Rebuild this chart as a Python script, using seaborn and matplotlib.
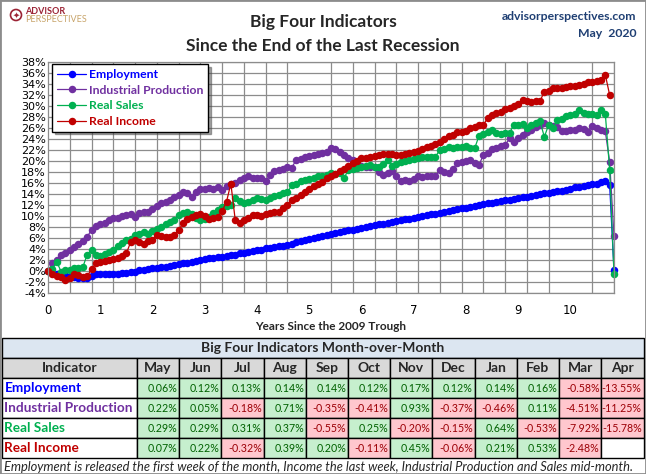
import numpy as np
import pandas as pd
import matplotlib
matplotlib.use("Agg")
import matplotlib.pyplot as plt
from matplotlib.lines import Line2D
from matplotlib.patches import Rectangle, Circle
import seaborn as sns

# cumulative % change since the June 2009 trough, one value per month (Jun 2009 .. Apr 2020)
employment = [
    0.0, -0.3, -0.5, -0.7, -0.8, -1.0, -1.1, -1.2, -1.3, -1.2, -0.9, -0.6,
    -0.6, -0.6, -0.6, -0.5, -0.5, -0.4, -0.3, -0.2, -0.1, 0.1, 0.2, 0.4,
    0.5, 0.6, 0.7, 0.8, 1.0, 1.1, 1.3, 1.4, 1.5, 1.7, 1.8, 2.0,
    2.1, 2.3, 2.4, 2.5, 2.6, 2.8, 2.9, 3.0, 3.2, 3.3, 3.5, 3.6,
    3.8, 3.9, 4.1, 4.2, 4.3, 4.5, 4.6, 4.8, 5.0, 5.2, 5.4, 5.6,
    5.8, 6.0, 6.2, 6.4, 6.6, 6.8, 6.9, 7.1, 7.2, 7.4, 7.5, 7.7,
    7.8, 8.0, 8.1, 8.3, 8.5, 8.6, 8.8, 8.9, 9.1, 9.2, 9.4, 9.5,
    9.7, 9.8, 10.0, 10.1, 10.3, 10.4, 10.6, 10.8, 10.9, 11.1, 11.2, 11.4,
    11.5, 11.7, 11.8, 12.0, 12.1, 12.3, 12.4, 12.6, 12.7, 12.9, 13.0, 13.1,
    13.3, 13.4, 13.5, 13.7, 13.8, 14.0, 14.1, 14.2, 14.4, 14.5, 14.6, 14.8,
    15.0, 15.2, 15.3, 15.5, 15.6, 15.8, 15.9, 16.1, 16.4, 15.7, 0.1,
]
industrial = [
    0.0, 1.4, 2.0, 2.9, 3.3, 3.8, 4.3, 5.0, 5.5, 6.2, 7.5, 8.2,
    8.6, 8.8, 9.2, 9.6, 9.6, 10.0, 10.2, 10.3, 9.8, 10.6, 10.8, 10.7,
    11.3, 11.8, 12.3, 12.6, 13.0, 13.4, 13.9, 14.3, 14.1, 13.5, 14.4, 15.0,
    15.0, 15.1, 15.0, 15.2, 14.8, 15.4, 15.8, 16.0, 16.6, 16.9, 17.2, 16.9,
    16.9, 17.0, 16.4, 17.4, 18.1, 18.3, 18.6, 19.0, 18.8, 20.2, 20.4, 20.7,
    20.9, 21.1, 21.3, 21.5, 21.7, 22.3, 22.1, 21.6, 21.1, 20.6, 20.2, 19.6,
    19.1, 19.0, 18.9, 18.9, 18.0, 17.5, 17.9, 18.1, 17.2, 16.4, 16.5, 16.4,
    16.8, 17.2, 17.1, 17.2, 17.3, 17.2, 18.4, 18.0, 17.8, 18.6, 19.6, 19.9,
    20.0, 20.1, 19.6, 19.3, 21.1, 21.4, 22.1, 22.3, 22.8, 22.9, 24.1, 23.5,
    24.2, 24.8, 25.2, 25.7, 26.1, 26.6, 27.0, 26.6, 26.3, 26.2, 25.5, 25.4,
    25.6, 25.7, 26.0, 25.8, 25.2, 26.4, 26.0, 25.7, 25.4, 19.9, 6.3,
]
real_sales = [
    0.0, 0.4, 1.7, -0.1, 0.1, 0.2, 0.5, 0.6, 0.7, 3.0, 3.8, 2.9,
    2.8, 3.1, 3.4, 3.9, 4.6, 5.1, 5.6, 5.9, 6.5, 6.8, 7.1, 6.8,
    7.3, 7.6, 8.0, 8.5, 8.9, 9.3, 10.2, 10.6, 10.8, 10.4, 9.6, 9.3,
    9.5, 9.9, 10.5, 11.1, 11.7, 11.9, 12.0, 13.2, 12.7, 12.3, 12.6, 13.0,
    13.2, 13.1, 12.9, 13.3, 13.6, 13.8, 14.1, 14.3, 15.6, 15.9, 16.3, 16.5,
    16.8, 17.0, 17.2, 17.3, 17.5, 17.9, 17.6, 17.8, 16.9, 18.4, 18.6, 18.8,
    18.9, 19.1, 19.3, 19.0, 18.9, 19.5, 20.2, 19.1, 19.4, 19.9, 20.0, 20.1,
    20.3, 20.5, 20.8, 20.7, 20.8, 20.8, 22.0, 22.2, 22.5, 22.4, 22.6, 22.6,
    22.7, 22.4, 22.3, 24.6, 24.9, 25.2, 25.7, 25.1, 25.0, 25.1, 25.1, 26.6,
    26.5, 26.8, 26.0, 26.5, 27.0, 27.2, 24.4, 26.6, 26.0, 27.5, 27.7, 28.1,
    28.3, 28.6, 29.2, 28.7, 28.5, 28.6, 28.4, 29.3, 28.6, 18.4, -0.5,
]
real_income = [
    0.0, -0.5, -0.9, -1.1, -1.6, -1.2, -0.6, -0.8, -1.0, -0.9, 0.3, 1.4,
    1.6, 1.9, 2.0, 2.1, 2.3, 2.7, 3.2, 5.3, 5.6, 5.3, 5.0, 5.4,
    5.6, 6.5, 6.4, 6.2, 6.2, 6.5, 7.4, 8.7, 9.4, 9.9, 10.2, 10.4,
    10.0, 9.4, 9.6, 9.9, 10.9, 12.6, 15.9, 9.3, 8.7, 9.2, 9.6, 10.2,
    10.2, 10.0, 10.3, 10.6, 10.8, 10.8, 11.4, 12.0, 12.9, 13.3, 13.8, 14.4,
    15.0, 15.4, 15.8, 16.2, 17.0, 17.2, 17.6, 18.1, 18.6, 19.1, 19.6, 20.0,
    20.5, 20.6, 20.7, 20.9, 21.1, 21.2, 21.2, 21.2, 21.1, 21.1, 21.3, 21.4,
    21.6, 21.9, 22.1, 22.5, 22.7, 23.1, 23.5, 24.0, 24.6, 24.8, 25.2, 25.3,
    25.5, 26.0, 26.2, 26.5, 26.6, 27.8, 28.3, 28.7, 29.0, 29.4, 29.7, 30.0,
    30.4, 31.1, 31.0, 30.8, 30.9, 30.9, 32.6, 32.8, 33.3, 33.3, 33.3, 33.4,
    33.7, 33.6, 33.9, 34.0, 34.3, 34.3, 34.6, 34.7, 35.7, 32.0, np.nan,
]

series_names = ["Employment", "Industrial Production", "Real Sales", "Real Income"]
series_colors = ["#0000FF", "#7030A0", "#00B050", "#C00000"]

# month-over-month table
months = ["May", "Jun", "Jul", "Aug", "Sep", "Oct", "Nov", "Dec", "Jan", "Feb", "Mar", "Apr"]
emp_mom = [0.06, 0.12, 0.13, 0.14, 0.14, 0.12, 0.17, 0.12, 0.14, 0.16, -0.58, -13.55]
ip_mom = [0.22, 0.05, -0.18, 0.71, -0.35, -0.41, 0.93, -0.37, -0.46, 0.11, -4.51, -11.25]
sales_mom = [0.29, 0.29, 0.31, 0.37, -0.55, 0.25, -0.20, -0.15, 0.64, -0.53, -7.92, -15.78]
income_mom = [0.07, 0.22, -0.32, 0.39, 0.20, -0.11, 0.45, -0.06, 0.21, 0.53, -2.48, None]

W, H = 646, 474

frames = []
for name, vals in zip(series_names, [employment, industrial, real_sales, real_income]):
    frames.append(pd.DataFrame({"years": np.arange(len(vals)) / 12, "value": vals, "series": name}))
df = pd.concat(frames, ignore_index=True).dropna()

sns.set_theme(style="white")
plt.rcParams["font.family"] = ["DejaVu Sans"]

fig = plt.figure(figsize=(W / 100, H / 100), dpi=100)
fig.patch.set_facecolor("white")

ax = fig.add_axes([48 / W, (H - 293) / H, 566 / W, 231 / H])
sns.lineplot(
    data=df, x="years", y="value", hue="series", hue_order=series_names,
    palette=series_colors, marker="o", markersize=5.4, markeredgewidth=0,
    linewidth=0.9, errorbar=None, sort=False, legend=False, ax=ax,
)
for ln in ax.lines:
    ln.set_clip_on(False)

ax.set_xlim(0, 130 / 12)
ax.set_ylim(-4, 38)
ax.set_xticks(range(0, 11))
ax.set_xticks(np.arange(0, 131, 5) / 12, minor=True)
ax.set_yticks(range(-4, 39, 2))
ax.set_yticklabels([f"{v}%" for v in range(-4, 39, 2)])
ax.grid(which="minor", axis="x", color="#8C8C8C", linewidth=0.9)
ax.grid(which="major", axis="y", color="#8C8C8C", linewidth=0.9)
ax.grid(which="major", axis="x", visible=False)
ax.set_axisbelow(True)
ax.tick_params(axis="both", which="both", length=0)
ax.tick_params(axis="y", pad=1.5, labelsize=8, labelcolor="#000000")
ax.tick_params(axis="x", pad=8, labelsize=8.5, labelcolor="#000000")
ax.set_xlabel("")
ax.set_ylabel("")
for spine in ax.spines.values():
    spine.set_color("#8C8C8C")
    spine.set_linewidth(0.9)

handles = [
    Line2D([0], [0], color=c, marker="o", markersize=5.4, markeredgewidth=0, linewidth=0.9)
    for c in series_colors
]
leg = ax.legend(
    handles, series_names, loc="upper left", bbox_to_anchor=(52 / W, 1 - 64 / H),
    bbox_transform=fig.transFigure, borderaxespad=0, frameon=True, fancybox=False,
    shadow=True, fontsize=8.8, labelspacing=0.38, borderpad=0.4,
    handlelength=2.4, handletextpad=0.2,
)
leg.get_frame().set_edgecolor("black")
leg.get_frame().set_linewidth(1.0)
for txt, c in zip(leg.get_texts(), series_colors):
    txt.set_color(c)
    txt.set_fontweight("bold")
    txt.set_family(["Lato", "DejaVu Sans"])

# overlay in pixel coordinates for titles, logo and table
ov = fig.add_axes([0, 0, 1, 1])
ov.set_xlim(0, W)
ov.set_ylim(H, 0)
ov.axis("off")
ov.patch.set_alpha(0)

title_font = ["Lato", "DejaVu Sans"]
ov.text(323, 22, "Big Four Indicators", ha="center", va="center", fontsize=12.5,
        fontweight="bold", family=title_font)
ov.text(323, 46, "Since the End of the Last Recession", ha="center", va="center",
        fontsize=12.5, fontweight="bold", family=title_font)
ov.text(636, 16, "advisorperspectives.com", ha="right", va="center", fontsize=8.8,
        fontweight="bold", color="#1F3F73", family=title_font)
ov.text(636, 33, "May  2020", ha="right", va="center", fontsize=8.8,
        fontweight="bold", color="#1F3F73", family=title_font)

# logo
ov.add_patch(Circle((16, 15), 5.5, facecolor="none", edgecolor="#9B2335", linewidth=1.2))
ov.text(16, 15.5, "✦", ha="center", va="center", fontsize=6, color="#9B2335")
ov.text(25, 11, "ADVISOR", ha="left", va="center", fontsize=6.5, fontweight="bold",
        color="#9B2335", family=title_font)
ov.text(25, 19.5, "PERSPECTIVES", ha="left", va="center", fontsize=6.5,
        color="#C8A46A", family=title_font)

ov.text(331, 326, "Years Since the 2009 Trough", ha="center", va="center", fontsize=8.5,
        fontweight="bold", family=title_font)

# table
x0, x_name, x_end = 1.5, 137, 643.5
col_w = (x_end - x_name) / len(months)
y_title, y_head, y_rows = 337.5, 358, 378
row_h = 20
green_bg, green_fg = "#C6EFCE", "#006100"
red_bg, red_fg = "#FFC7CE", "#9C0006"

ov.add_patch(Rectangle((x0, y_title), x_end - x0, y_head - y_title, facecolor="#DCE6F1",
                       edgecolor="black", linewidth=1.0))
ov.text((x0 + x_end) / 2, (y_title + y_head) / 2 + 0.5, "Big Four Indicators Month-over-Month",
        ha="center", va="center", fontsize=10, fontweight="bold", family=title_font)

ov.add_patch(Rectangle((x0, y_head), x_name - x0, row_h, facecolor="#D9D9D9",
                       edgecolor="black", linewidth=1.0))
ov.text((x0 + x_name) / 2, y_head + row_h / 2 + 0.5, "Indicator", ha="center", va="center",
        fontsize=10, fontweight="bold", family=title_font)
for j, m in enumerate(months):
    cx = x_name + j * col_w
    ov.add_patch(Rectangle((cx, y_head), col_w, row_h, facecolor="#D9D9D9",
                           edgecolor="black", linewidth=1.0))
    ov.text(cx + col_w / 2, y_head + row_h / 2 + 0.5, m, ha="center", va="center",
            fontsize=10, fontweight="bold", family=title_font)

table_rows = [emp_mom, ip_mom, sales_mom, income_mom]
for i, (name, color, vals) in enumerate(zip(series_names, series_colors, table_rows)):
    ry = y_rows + i * row_h
    ov.add_patch(Rectangle((x0, ry), x_name - x0, row_h, facecolor="white",
                           edgecolor="black", linewidth=1.0))
    ov.text(x0 + 3, ry + row_h / 2 + 0.5, name, ha="left", va="center", fontsize=9.8,
            fontweight="bold", color=color, family=title_font)
    for j, v in enumerate(vals):
        cx = x_name + j * col_w
        if v is None:
            bg, fg = "white", "black"
        elif v < 0:
            bg, fg = red_bg, red_fg
        else:
            bg, fg = green_bg, green_fg
        ov.add_patch(Rectangle((cx, ry), col_w, row_h, facecolor=bg, edgecolor="black",
                               linewidth=1.0))
        if v is not None:
            ov.text(cx + col_w - 1.8, ry + row_h / 2 + 0.5, f"{v:.2f}%", ha="right",
                    va="center", fontsize=7.7, color=fg, family=title_font)

ov.text(4, 467, "Employment is released the first week of the month, Income the last week, "
        "Industrial Production and Sales mid-month.", ha="left", va="center",
        fontsize=9.3, fontstyle="italic", family=title_font)

fig.patches.append(Rectangle((0, 0), 1, 1, transform=fig.transFigure, fill=False,
                             edgecolor="#8C8C8C", linewidth=2))

fig.savefig("out.png", dpi=100)
